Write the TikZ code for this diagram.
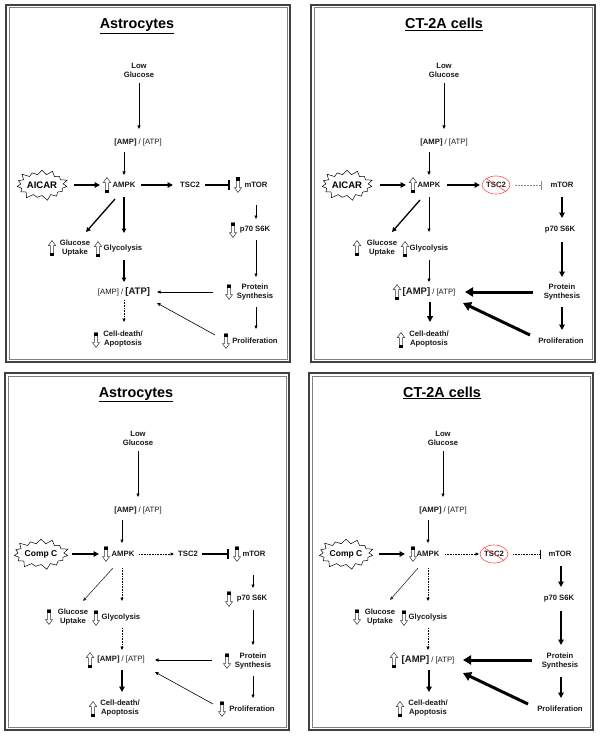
\documentclass[tikz,border=0pt]{standalone}
\usepackage{fontspec}
\setmainfont{Liberation Sans}
\usetikzlibrary{arrows.meta,shapes.symbols,shapes.geometric,calc}
\tikzset{
 txt/.style={font=\fontsize{7.7}{9}\selectfont\bfseries, inner sep=0.5pt, align=center, text=black!90},
 ttl/.style={font=\fontsize{14.4}{16}\selectfont\bfseries, anchor=base, inner sep=0pt},
 drugstar/.style={starburst, draw, starburst points=15, starburst point height=6pt, minimum width=51pt, minimum height=33pt, inner sep=0pt, line width=0.5pt},
 nosign/.style={ellipse, draw=red!70, line width=0.6pt, minimum width=26pt, minimum height=18pt, inner sep=0pt},
 thinarr/.style={line width=0.6pt, -{Triangle[length=3.5pt,width=3pt]}},
 medarr/.style={line width=1.3pt, -{Triangle[length=4.5pt,width=4.5pt]}},
 thickarr/.style={line width=2pt, -{Triangle[length=5.5pt,width=5.5pt]}},
 heavyarr/.style={line width=3pt, -{Triangle[length=8pt,width=9pt]}},
 dotarr/.style={line width=0.6pt, densely dotted, -{Triangle[length=3.5pt,width=3pt]}},
 inhib/.style={line width=2pt, -{Bar[width=10pt,line width=1.6pt]}},
 inhibdash/.style={line width=0.6pt, black!45, dash pattern=on 2pt off 1pt, -{Bar[width=9pt]}},
 inhibdot/.style={line width=0.6pt, densely dotted, -{Bar[width=9pt]}},
 hup/.pic={
   \draw[line width=0.5pt, black!80, fill=white] (0,-7.5) -- (3.6,-2.5) -- (1.7,-2.5) -- (1.7,7.5) -- (-1.7,7.5) -- (-1.7,-2.5) -- (-3.6,-2.5) -- cycle;
   \fill[black] (-1.7,4.5) rectangle (1.7,7.5);
 },
 hdown/.pic={
   \draw[line width=0.5pt, black!80, fill=white] (0,7.5) -- (3.6,2.5) -- (1.7,2.5) -- (1.7,-7.5) -- (-1.7,-7.5) -- (-1.7,2.5) -- (-3.6,2.5) -- cycle;
   \fill[black] (-1.7,-4.5) rectangle (1.7,-7.5);
 },
 panelframe/.pic={
   \draw[line width=1.3pt, black!75] (6,5) rectangle (290,362);
   \draw[line width=0.6pt, black!50] (8.8,7.8) rectangle (287.2,359.2);
 }
}
\begin{document}
\begin{tikzpicture}[x=1pt,y=-1pt]
\useasboundingbox (0,0) rectangle (600,738);
\fill[white] (0,0) rectangle (600,738);

% ---------------- Panel A: Astrocytes / AICAR ----------------
\begin{scope}
\pic at (0,0) {panelframe};
\node[ttl] (aT) at (137,29) {\underline{Astrocytes}};
\node[txt] (aLG) at (139,70) {Low\\Glucose};
\node[txt] (aR1) at (138,143) {[AMP] {\mdseries / [ATP]}};
\node[drugstar, font=\fontsize{9.5}{10}\selectfont\bfseries] (aD) at (42,185) {AICAR};
\node[txt] (aK) at (124,185) {AMPK};
\node[txt] (aS) at (190,185) {TSC2};
\node[txt] (aM) at (256,185) {mTOR};
\node[txt] (aP) at (255,230) {p70 S6K};
\node[txt] (aPS) at (255,292) {Protein\\Synthesis};
\node[txt] (aPr) at (255,341) {Proliferation};
\node[txt] (aGU) at (75,248) {Glucose\\Uptake};
\node[txt] (aGl) at (123,249) {Glycolysis};
\node[txt] (aR2) at (124,292) {{\mdseries [AMP] / }{\fontsize{9.5}{10}\selectfont [ATP]}};
\node[txt] (aC) at (123,339) {Cell-death/\\Apoptosis};
\pic at (107,185) {hup};
\pic at (238,185) {hdown};
\pic at (233,230) {hdown};
\pic at (229,292) {hdown};
\pic at (226,341) {hdown};
\pic at (52,248) {hup};
\pic at (98,249) {hup};
\pic at (96,340) {hdown};
\draw[thinarr] ($(aLG)+(0,13)$) -- ($(aR1)+(1,-14)$);
\draw[thinarr] ($(aR1)+(-14,9)$) -- ($(aK)+(0,-10)$);
\draw[thickarr] ($(aD)+(32,0)$) -- ($(aK)+(-24,0)$);
\draw[thickarr] ($(aK)+(17,0)$) -- ($(aS)+(-17,0)$);
\draw[inhib] ($(aS)+(15,0)$) -- ($(aM)+(-26,0)$);
\draw[thinarr] ($(aM)+(0,20)$) -- ($(aP)+(1,-11)$);
\draw[thinarr] ($(aP)+(1,10)$) -- ($(aPS)+(1,-15)$);
\draw[thinarr] ($(aPS)+(1,15)$) -- ($(aPr)+(1,-12)$);
\draw[thinarr] ($(aPS)+(-42,0)$) -- ($(aR2)+(33,0)$);
\draw[thinarr] ($(aPr)+(-40,-6)$) -- ($(aR2)+(33,11)$);
\draw[medarr] ($(aK)+(-9,14)$) -- ($(aGU)+(11,-16)$);
\draw[medarr] ($(aK)+(0,12)$) -- ($(aGl)+(1,-16)$);
\draw[medarr] ($(aGl)+(1,11)$) -- ($(aR2)+(0,-10)$);
\draw[dotarr] ($(aR2)+(0,8)$) -- ($(aC)+(1,-17)$);
\end{scope}

% ---------------- Panel B: CT-2A / AICAR ----------------
\begin{scope}[shift={(305,0)}]
\pic at (0,0) {panelframe};
\node[ttl] (bT) at (139,29) {\underline{CT-2A cells}};
\node[txt] (bLG) at (139,70) {Low\\Glucose};
\node[txt] (bR1) at (139,143) {[AMP] {\mdseries / [ATP]}};
\node[drugstar, font=\fontsize{9.5}{10}\selectfont\bfseries] (bD) at (42,185) {AICAR};
\node[txt] (bK) at (124,185) {AMPK};
\node[txt, nosign] (bS) at (191,185) {TSC2};
\draw[red!70, line width=0.6pt] (bS.north west) -- (bS.south east);
\node[txt] (bM) at (257,185) {mTOR};
\node[txt] (bP) at (255,230) {p70 S6K};
\node[txt] (bPS) at (257,292) {Protein\\Synthesis};
\node[txt] (bPr) at (256,341) {Proliferation};
\node[txt] (bGU) at (77,248) {Glucose\\Uptake};
\node[txt] (bGl) at (124,249) {Glycolysis};
\node[txt] (bR2) at (124,292) {{\fontsize{9.5}{10}\selectfont [AMP]}{\mdseries\ / [ATP]}};
\node[txt] (bC) at (124,339) {Cell-death/\\Apoptosis};
\pic at (108,185) {hup};
\pic at (52,248) {hup};
\pic at (100,249) {hup};
\pic at (92,292) {hup};
\pic at (96,340) {hup};
\draw[thinarr] ($(bLG)+(0,13)$) -- ($(bR1)+(0,-14)$);
\draw[thinarr] ($(bR1)+(-15,9)$) -- ($(bK)+(0,-10)$);
\draw[thickarr] ($(bD)+(33,0)$) -- ($(bK)+(-23,0)$);
\draw[thickarr] ($(bK)+(18,0)$) -- ($(bS)+(-16,0)$);
\draw[inhibdash] ($(bS)+(19,0)$) -- ($(bM)+(-20,0)$);
\draw[thickarr] ($(bM)+(0,12)$) -- ($(bP)+(2,-12)$);
\draw[thickarr] ($(bP)+(2,12)$) -- ($(bPS)+(0,-15)$);
\draw[thickarr] ($(bPS)+(0,15)$) -- ($(bPr)+(1,-11)$);
\draw[heavyarr] ($(bPS)+(-29,0)$) -- ($(bR2)+(36,0)$);
\draw[heavyarr] ($(bPr)+(-31,-6)$) -- ($(bR2)+(34,11)$);
\draw[medarr] ($(bK)+(-9,15)$) -- ($(bGU)+(10,-16)$);
\draw[thinarr] ($(bK)+(0,12)$) -- ($(bGl)+(0,-17)$);
\draw[thinarr] ($(bGl)+(0,11)$) -- ($(bR2)+(0,-10)$);
\draw[line width=2.3pt, -{Triangle[length=6pt,width=6pt]}] ($(bR2)+(1,10)$) -- ($(bC)+(1,-17)$);
\end{scope}

% ---------------- Panel C: Astrocytes / Comp C ----------------
\begin{scope}[shift={(-1,368)}]
\pic at (0,0) {panelframe};
\node[ttl] (cT) at (137,29) {\underline{Astrocytes}};
\node[txt] (cLG) at (139,70) {Low\\Glucose};
\node[txt] (cR1) at (139,143) {[AMP] {\mdseries / [ATP]}};
\node[drugstar, font=\fontsize{8.5}{10}\selectfont\bfseries] (cD) at (42,186) {Comp C};
\node[txt] (cK) at (124,186) {AMPK};
\node[txt] (cS) at (189,186) {TSC2};
\node[txt] (cM) at (255,186) {mTOR};
\node[txt] (cP) at (253,231) {p70 S6K};
\node[txt] (cPS) at (254,293) {Protein\\Synthesis};
\node[txt] (cPr) at (253,341) {Proliferation};
\node[txt] (cGU) at (74,249) {Glucose\\Uptake};
\node[txt] (cGl) at (122,250) {Glycolysis};
\node[txt] (cR2) at (122,292) {[AMP]{\mdseries\ / [ATP]}};
\node[txt] (cC) at (121,340) {Cell-death/\\Apoptosis};
\pic at (107,186) {hdown};
\pic at (238,186) {hdown};
\pic at (230,231) {hdown};
\pic at (228,293) {hdown};
\pic at (223,341) {hdown};
\pic at (50,249) {hdown};
\pic at (97,250) {hdown};
\pic at (91,292) {hup};
\pic at (94,341) {hup};
\draw[thinarr] ($(cLG)+(0,13)$) -- ($(cR1)+(0,-14)$);
\draw[thinarr] ($(cR1)+(-16,9)$) -- ($(cK)+(-1,-11)$);
\draw[thickarr] ($(cD)+(31,0)$) -- ($(cK)+(-24,0)$);
\draw[dotarr] ($(cK)+(16,0)$) -- ($(cS)+(-14,0)$);
\draw[inhib] ($(cS)+(14,0)$) -- ($(cM)+(-25,0)$);
\draw[thinarr] ($(cM)+(-1,21)$) -- ($(cP)+(1,-11)$);
\draw[thinarr] ($(cP)+(1,11)$) -- ($(cPS)+(0,-16)$);
\draw[thinarr] ($(cPS)+(0,15)$) -- ($(cPr)+(1,-11)$);
\draw[thinarr] ($(cPS)+(-41,-1)$) -- ($(cR2)+(34,0)$);
\draw[thinarr] ($(cPr)+(-39,-5)$) -- ($(cR2)+(34,12)$);
\draw[thinarr, black!80] ($(cK)+(-10,14)$) -- ($(cGU)+(10,-16)$);
\draw[dotarr] ($(cK)+(-1,14)$) -- ($(cGl)+(1,-17)$);
\draw[dotarr] ($(cGl)+(1,10)$) -- ($(cR2)+(1,-10)$);
\draw[thickarr] ($(cR2)+(1,10)$) -- ($(cC)+(2,-16)$);
\end{scope}

% ---------------- Panel D: CT-2A / Comp C ----------------
\begin{scope}[shift={(303,368)}]
\pic at (0,0) {panelframe};
\node[ttl] (dT) at (139,29) {\underline{CT-2A cells}};
\node[txt] (dLG) at (140,70) {Low\\Glucose};
\node[txt] (dR1) at (140,143) {[AMP] {\mdseries / [ATP]}};
\node[drugstar, font=\fontsize{8.5}{10}\selectfont\bfseries] (dD) at (43,186) {Comp C};
\node[txt] (dK) at (125,186) {AMPK};
\node[txt, nosign] (dS) at (191,186) {TSC2};
\draw[red!70, line width=0.6pt] (dS.north west) -- (dS.south east);
\node[txt] (dM) at (257,186) {mTOR};
\node[txt] (dP) at (256,231) {p70 S6K};
\node[txt] (dPS) at (257,293) {Protein\\Synthesis};
\node[txt] (dPr) at (257,341) {Proliferation};
\node[txt] (dGU) at (77,249) {Glucose\\Uptake};
\node[txt] (dGl) at (125,250) {Glycolysis};
\node[txt] (dR2) at (125,292) {{\fontsize{9.5}{10}\selectfont [AMP]}{\mdseries\ / [ATP]}};
\node[txt] (dC) at (125,340) {Cell-death/\\Apoptosis};
\pic at (110,186) {hdown};
\pic at (54,249) {hdown};
\pic at (101,250) {hdown};
\pic at (91,292) {hup};
\pic at (97,341) {hup};
\draw[thinarr] ($(dLG)+(0,13)$) -- ($(dR1)+(0,-14)$);
\draw[thinarr] ($(dR1)+(-15,9)$) -- ($(dK)+(0,-11)$);
\draw[thickarr] ($(dD)+(33,0)$) -- ($(dK)+(-23,0)$);
\draw[dotarr] ($(dK)+(17,0)$) -- ($(dS)+(-15,0)$);
\draw[inhibdot] ($(dS)+(19,0)$) -- ($(dM)+(-19,0)$);
\draw[thickarr] ($(dM)+(1,12)$) -- ($(dP)+(2,-12)$);
\draw[thickarr] ($(dP)+(2,12)$) -- ($(dPS)+(1,-16)$);
\draw[thickarr] ($(dPS)+(1,16)$) -- ($(dPr)+(1,-11)$);
\draw[heavyarr] ($(dPS)+(-28,-1)$) -- ($(dR2)+(35,0)$);
\draw[heavyarr] ($(dPr)+(-32,-5)$) -- ($(dR2)+(35,13)$);
\draw[thinarr, black!80] ($(dK)+(-10,14)$) -- ($(dGU)+(10,-17)$);
\draw[dotarr] ($(dK)+(0,14)$) -- ($(dGl)+(0,-17)$);
\draw[dotarr] ($(dGl)+(0,10)$) -- ($(dR2)+(0,-10)$);
\draw[thickarr] ($(dR2)+(1,10)$) -- ($(dC)+(1,-16)$);
\end{scope}
\end{tikzpicture}
\end{document}
